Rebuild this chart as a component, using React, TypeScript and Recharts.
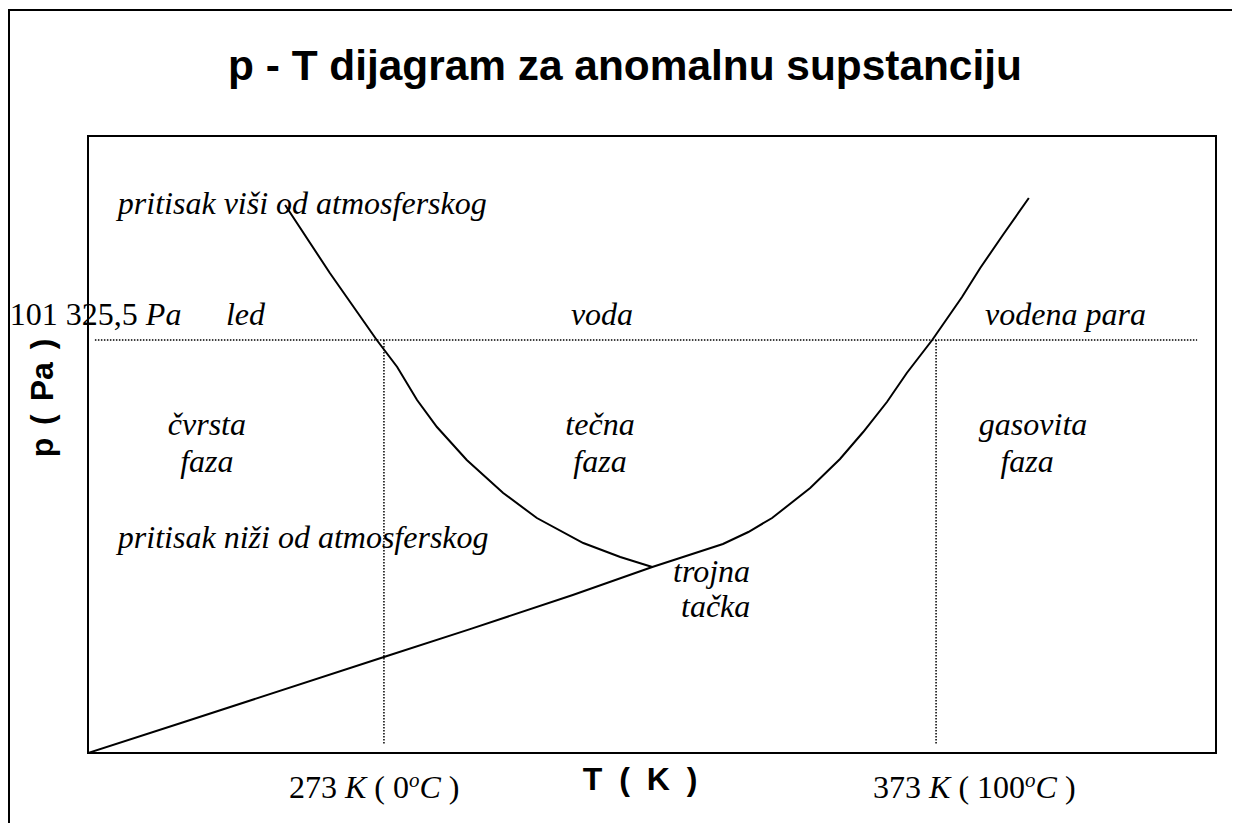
import React from 'react';
import {
  LineChart,
  Line,
  XAxis,
  YAxis,
  ReferenceLine,
  ReferenceArea,
  ReferenceDot,
} from 'recharts';

// Axis ranges (schematic p-T plane, K and Pa)
const T_MIN = 219.4;
const T_MAX = 423.7;
const P_MIN = 0;
const P_MAX = 151375;

// Reference conditions
const P_ATM = 101325.5;
const T_FREEZE = 273;
const T_BOIL = 373;
const GUIDE_T_START = 220.65;
const GUIDE_T_END = 420.28;
const GUIDE_P_BOTTOM = 1963;

// Sublimation + vaporization curve (through the triple point)
const boundaryT = [219.4, 236.8, 273.0, 288.6, 307.2, 321.6, 334.4, 339.0, 343.3, 350.2, 355.6, 359.8, 364.1, 367.7, 372.3, 377.7, 381.0, 385.1, 389.8];
const boundaryP = [0, 7600, 23550, 30400, 38760, 45630, 51280, 54220, 57650, 65010, 72130, 78750, 86110, 93230, 101325.5, 111880, 118990, 127090, 136160];

// Melting curve (negative slope, anomalous substance)
const meltingT = [255.1, 263.2, 271.7, 275.4, 279.0, 282.6, 288.0, 294.6, 300.7, 309.1, 315.8, 321.6];
const meltingP = [134450, 117760, 101325.5, 94700, 86600, 79980, 71890, 63790, 57650, 51520, 48090, 45630];

const boundaryData = boundaryT.map((T, i) => ({ T, p: boundaryP[i] }));
const meltingData = meltingT.map((T, i) => ({ T, p: meltingP[i] }));

type Seg = { t: string; italic?: boolean; sup?: boolean };
type Note = {
  T: number;
  p: number;
  segs: Seg[];
  anchor?: 'start' | 'middle' | 'end';
  family?: 'serif' | 'sans';
  size?: number;
  wordSpacing?: number;
  rotate?: boolean;
};

const it = (t: string): Seg => ({ t, italic: true });
const rm = (t: string): Seg => ({ t });

const notes: Note[] = [
  { T: 224.81, p: 132238, segs: [it('pritisak viši od atmosferskog')] },
  { T: 244.38, p: 105006, segs: [it('led')] },
  { T: 312.49, p: 105006, segs: [it('voda')], anchor: 'middle' },
  { T: 381.88, p: 105006, segs: [it('vodena para')] },
  { T: 240.93, p: 78018, segs: [it('čvrsta')], anchor: 'middle' },
  { T: 240.93, p: 68941, segs: [it('faza')], anchor: 'middle' },
  { T: 312.13, p: 78018, segs: [it('tečna')], anchor: 'middle' },
  { T: 312.13, p: 68941, segs: [it('faza')], anchor: 'middle' },
  { T: 390.57, p: 78018, segs: [it('gasovita')], anchor: 'middle' },
  { T: 389.49, p: 68941, segs: [it('faza')], anchor: 'middle' },
  { T: 224.81, p: 50295, segs: [it('pritisak niži od atmosferskog')] },
  { T: 325.36, p: 41953, segs: [it('trojna')] },
  { T: 326.8, p: 33366, segs: [it('tačka')] },
  { T: 205.25, p: 105006, segs: [rm('101 325,5 '), it('Pa')] },
  { T: 255.79, p: -11040, segs: [rm('273 '), it('K'), rm(' ( 0'), { t: 'o', italic: true, sup: true }, it('C'), rm(' )')] },
  { T: 361.59, p: -11040, segs: [rm('373 '), it('K'), rm(' ( 100'), { t: 'o', italic: true, sup: true }, it('C'), rm(' )')] },
  { T: 319.38, p: -9100, segs: [rm('T ( K )')], anchor: 'middle', family: 'sans', size: 32, wordSpacing: 8 },
  { T: 211.0, p: 87096, segs: [rm('p ( Pa )')], anchor: 'middle', family: 'sans', size: 32, wordSpacing: 4, rotate: true },
];

const SERIF = '"Liberation Serif", "Times New Roman", serif';
const SANS = '"Liberation Sans", Arial, sans-serif';

const makeLabel = (n: Note) => (props: any) => {
  const vb = props.viewBox || {};
  const x = (vb.x || 0) + (vb.width || 0) / 2;
  const y = (vb.y || 0) + (vb.height || 0) / 2;
  const size = n.size || 32;
  const sans = n.family === 'sans';
  return (
    <text
      x={x}
      y={y}
      textAnchor={n.anchor || 'start'}
      dominantBaseline={n.rotate ? 'central' : 'alphabetic'}
      transform={n.rotate ? `rotate(-90, ${x}, ${y})` : undefined}
      fontFamily={sans ? SANS : SERIF}
      fontWeight={sans ? 700 : 400}
      fontSize={size}
      style={n.wordSpacing ? { wordSpacing: n.wordSpacing } : undefined}
      fill="#000"
    >
      {n.segs.map((s, i) => {
        const prevSup = i > 0 && n.segs[i - 1].sup;
        let dy: number | undefined;
        if (s.sup) dy = -11;
        else if (prevSup) dy = 11;
        return (
          <tspan
            key={i}
            fontStyle={s.italic ? 'italic' : 'normal'}
            fontSize={s.sup ? 21 : size}
            dy={dy}
          >
            {s.t}
          </tspan>
        );
      })}
    </text>
  );
};

export default function App() {
  return (
    <div style={{ position: 'relative', margin: -8, width: 1240, height: 831, overflow: 'hidden', background: '#fff' }}>
      <div
        style={{
          position: 'absolute',
          left: 8,
          top: 9,
          width: 1225,
          height: 860,
          border: '2px solid #000',
        }}
      />
      <div
        style={{
          position: 'absolute',
          left: 0,
          top: 44,
          width: 1250,
          textAlign: 'center',
          fontFamily: SANS,
          fontWeight: 700,
          fontSize: 42.4,
          lineHeight: '43px',
          whiteSpace: 'nowrap',
        }}
      >
        p - T dijagram za anomalnu supstanciju
      </div>
      <div style={{ position: 'absolute', left: 0, top: 0 }}>
        <LineChart
          width={1240}
          height={831}
          margin={{ top: 136, left: 88, right: 24, bottom: 78 }}
        >
          <XAxis type="number" dataKey="T" domain={[T_MIN, T_MAX]} hide allowDataOverflow />
          <YAxis type="number" dataKey="p" domain={[P_MIN, P_MAX]} hide allowDataOverflow />
          <ReferenceArea
            x1={T_MIN}
            x2={T_MAX}
            y1={P_MIN}
            y2={P_MAX}
            fill="none"
            fillOpacity={0}
            stroke="#000"
            strokeWidth={2}
          />
          <ReferenceLine
            segment={[{ x: GUIDE_T_START, y: P_ATM }, { x: GUIDE_T_END, y: P_ATM }]}
            stroke="#000"
            strokeWidth={1.5}
            strokeDasharray="1.5 1.5"
          />
          <ReferenceLine
            segment={[{ x: T_FREEZE, y: P_ATM }, { x: T_FREEZE, y: GUIDE_P_BOTTOM }]}
            stroke="#000"
            strokeWidth={1.5}
            strokeDasharray="1.5 1.5"
          />
          <ReferenceLine
            segment={[{ x: T_BOIL, y: P_ATM }, { x: T_BOIL, y: GUIDE_P_BOTTOM }]}
            stroke="#000"
            strokeWidth={1.5}
            strokeDasharray="1.5 1.5"
          />
          <Line
            data={boundaryData}
            dataKey="p"
            type="linear"
            stroke="#000"
            strokeWidth={2}
            dot={false}
            activeDot={false}
            isAnimationActive={false}
          />
          <Line
            data={meltingData}
            dataKey="p"
            type="linear"
            stroke="#000"
            strokeWidth={2}
            dot={false}
            activeDot={false}
            isAnimationActive={false}
          />
          {notes.map((n, i) => (
            <ReferenceDot
              key={i}
              x={n.T}
              y={n.p}
              r={0}
              fill="none"
              stroke="none"
              ifOverflow="visible"
              label={makeLabel(n)}
            />
          ))}
        </LineChart>
      </div>
    </div>
  );
}
